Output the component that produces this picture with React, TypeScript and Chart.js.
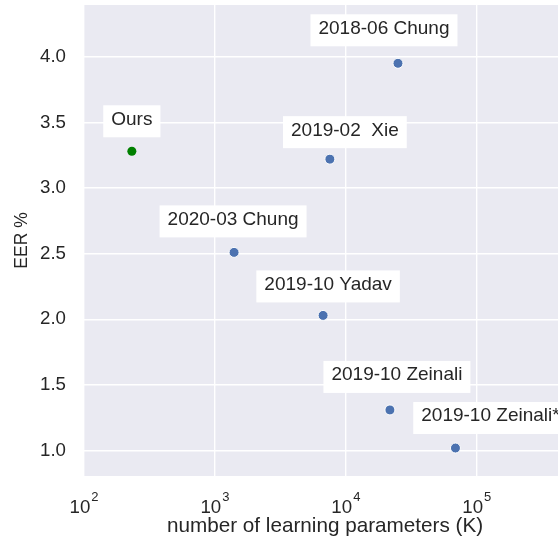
import React, { useEffect, useRef } from "react";
import { Chart, registerables } from "chart.js";

Chart.register(...registerables);

// ---- data ----
const methodLabels = [
  "Ours",
  "2018-06 Chung",
  "2019-02  Xie",
  "2020-03 Chung",
  "2019-10 Yadav",
  "2019-10 Zeinali",
  "2019-10 Zeinali*",
];
const paramsK = [232, 25000, 7550, 1400, 6700, 21700, 68700];
const eerPct = [3.28, 3.95, 3.22, 2.51, 2.03, 1.31, 1.02];
const xTickValues = [100, 1000, 10000, 100000];
const yTickValues = [1.0, 1.5, 2.0, 2.5, 3.0, 3.5, 4.0];

// label placement relative to each point (px)
const labelOffsets: [number, number][] = [
  [0, -30],
  [-14, -33],
  [15, -27],
  [-1, -31],
  [5, -29],
  [7, -33],
  [35, -30],
];

const FONT = "'Liberation Sans', Arial, sans-serif";
const TEXT = "#262626";

export default function App() {
  const ref = useRef<HTMLCanvasElement | null>(null);

  useEffect(() => {
    if (!ref.current) return;

    const oursData = [{ x: paramsK[0], y: eerPct[0] }];
    const otherData = paramsK.slice(1).map((x, i) => ({ x, y: eerPct[i + 1] }));

    const decor = {
      id: "decor",
      beforeDraw(chart: any) {
        const { ctx, chartArea: a } = chart;
        ctx.save();
        ctx.fillStyle = "#EAEAF2";
        ctx.fillRect(a.left, a.top, a.right - a.left, a.bottom - a.top);
        ctx.restore();
      },
      afterDatasetsDraw(chart: any) {
        const { ctx } = chart;
        const xs = chart.scales.x;
        const ys = chart.scales.y;
        ctx.save();
        ctx.font = `19px ${FONT}`;
        methodLabels.forEach((lab, i) => {
          const px = xs.getPixelForValue(paramsK[i]);
          const py = ys.getPixelForValue(eerPct[i]);
          const cx = px + labelOffsets[i][0];
          const cy = py + labelOffsets[i][1];
          const w = ctx.measureText(lab).width + 16;
          const h = 32;
          ctx.fillStyle = "#ffffff";
          ctx.fillRect(cx - w / 2, cy - h / 2, w, h);
          ctx.fillStyle = TEXT;
          ctx.textAlign = "center";
          ctx.textBaseline = "middle";
          ctx.fillText(lab, cx, cy - 1.8);
        });
        ctx.restore();
      },
      afterDraw(chart: any) {
        const { ctx } = chart;
        const xs = chart.scales.x;
        ctx.save();
        ctx.fillStyle = TEXT;
        ctx.textBaseline = "alphabetic";
        ctx.textAlign = "left";
        xTickValues.forEach((v) => {
          const px = xs.getPixelForValue(v);
          const exp = String(Math.round(Math.log10(v)));
          ctx.font = `18.7px ${FONT}`;
          const w1 = ctx.measureText("10").width;
          ctx.font = `13px ${FONT}`;
          const w2 = ctx.measureText(exp).width;
          const start = px - (w1 + w2 + 1) / 2;
          ctx.font = `18.7px ${FONT}`;
          ctx.fillText("10", start, 512.7);
          ctx.font = `13px ${FONT}`;
          ctx.fillText(exp, start + w1 + 1, 500.5);
        });
        ctx.restore();
      },
    };

    const chart = new Chart(ref.current, {
      type: "scatter",
      data: {
        datasets: [
          {
            label: "ours",
            data: oursData,
            backgroundColor: "#008000",
            borderColor: "#008000",
            borderWidth: 0,
            pointRadius: 4.5,
            pointHoverRadius: 4.5,
          },
          {
            label: "others",
            data: otherData,
            backgroundColor: "#4C72B0",
            borderColor: "#ffffff",
            borderWidth: 1,
            pointRadius: 5,
            pointHoverRadius: 5,
          },
        ],
      },
      options: {
        animation: false,
        responsive: false,
        devicePixelRatio: 1,
        layout: { autoPadding: false, padding: { top: 5, right: 0, left: 0, bottom: 0 } },
        plugins: {
          legend: { display: false },
          tooltip: { enabled: false },
        },
        scales: {
          x: {
            type: "logarithmic",
            min: 100,
            max: 480000,
            border: { display: false },
            grid: { color: "#ffffff", lineWidth: 1.4, drawTicks: false },
            ticks: { display: false },
            afterBuildTicks: (s: any) => {
              s.ticks = xTickValues.map((v) => ({ value: v }));
            },
            afterFit: (s: any) => {
              s.height = 67;
              s.paddingLeft = 0;
              s.paddingRight = 0;
            },
            title: {
              display: true,
              text: "number of learning parameters (K)",
              color: TEXT,
              font: { family: FONT, size: 20.7 },
              padding: { top: 0, bottom: 4.5 },
            },
          },
          y: {
            type: "linear",
            min: 0.807,
            max: 4.394,
            border: { display: false },
            grid: { color: "#ffffff", lineWidth: 1.4, drawTicks: false },
            ticks: {
              color: TEXT,
              font: { family: FONT, size: 18.7 },
              padding: 18,
              callback: (v: any) => Number(v).toFixed(1),
            },
            afterBuildTicks: (s: any) => {
              s.ticks = yTickValues.map((v) => ({ value: v }));
            },
            afterFit: (s: any) => {
              s.width = 84;
              s.paddingTop = 0;
              s.paddingBottom = 0;
            },
            title: {
              display: true,
              text: "EER %",
              color: TEXT,
              font: { family: FONT, size: 17.5 },
              padding: { top: 11.7, bottom: 0 },
            },
          },
        },
      },
      plugins: [decor],
    } as any);

    return () => chart.destroy();
  }, []);

  return (
    <div
      style={{
        position: "fixed",
        left: 0,
        top: 0,
        width: 558,
        height: 543,
        overflow: "hidden",
        background: "#ffffff",
      }}
    >
      <canvas ref={ref} width={566} height={543} style={{ width: 566, height: 543, display: "block" }} />
    </div>
  );
}
